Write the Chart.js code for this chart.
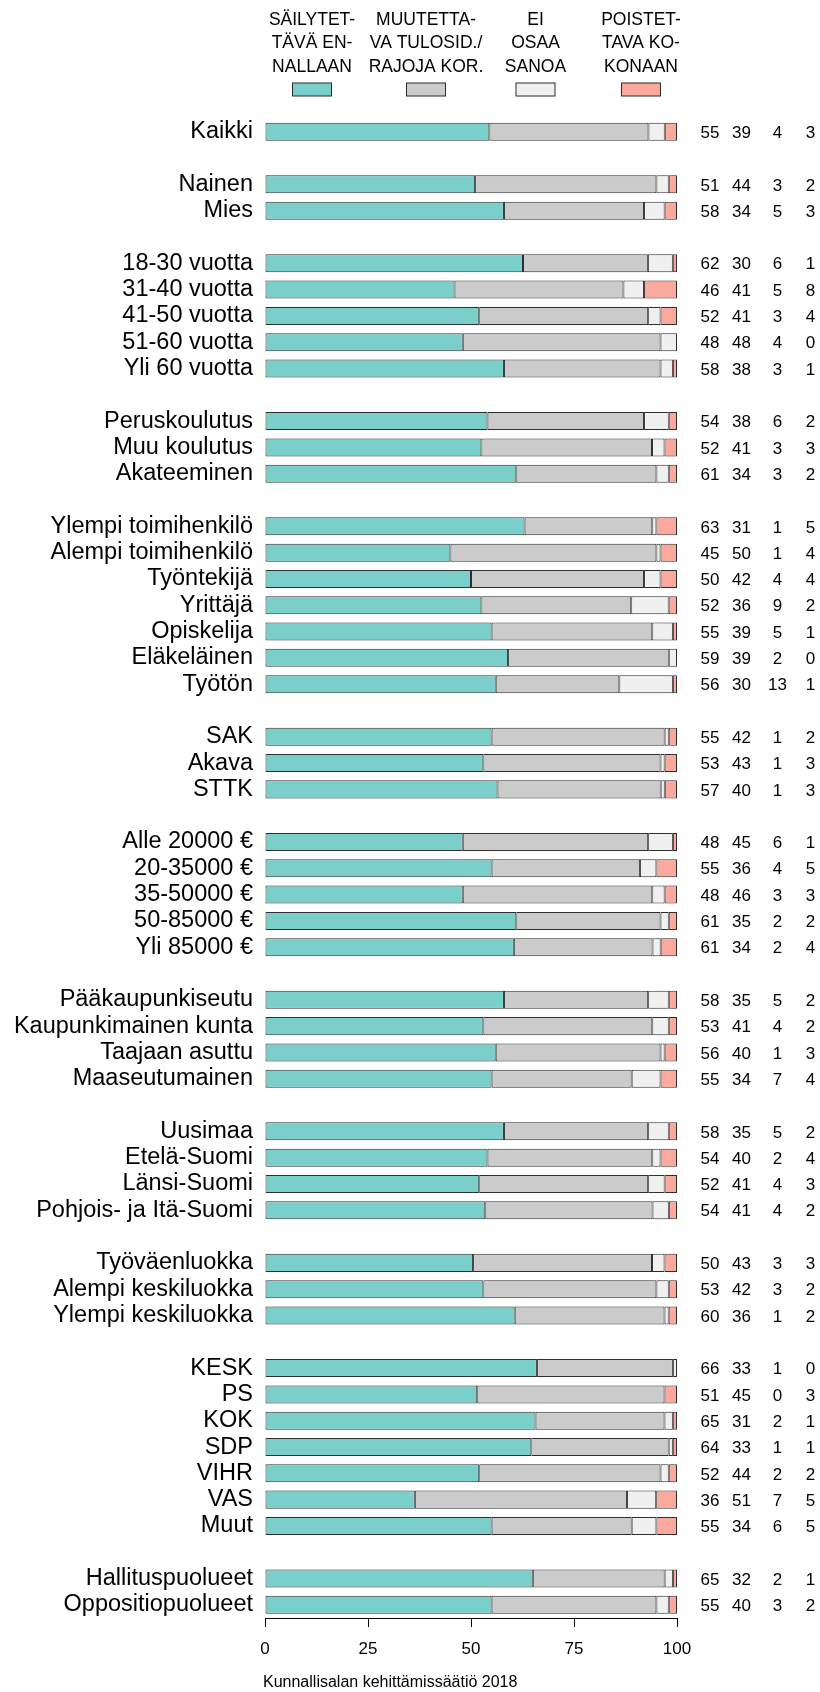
<!DOCTYPE html>
<html><head><meta charset="utf-8">
<script src="https://cdn.jsdelivr.net/npm/chart.js@4.4.0/dist/chart.umd.min.js"></script>
<style>html,body{margin:0;padding:0;background:#fff}canvas{display:block}</style>
</head><body>
<canvas id="c" width="820" height="1692" style="width:820px;height:1692px"></canvas>
<script>
// ---- data ----
const categories = [
  'Kaikki','',
  'Nainen','Mies','',
  '18-30 vuotta','31-40 vuotta','41-50 vuotta','51-60 vuotta','Yli 60 vuotta','',
  'Peruskoulutus','Muu koulutus','Akateeminen','',
  'Ylempi toimihenkilö','Alempi toimihenkilö','Työntekijä','Yrittäjä','Opiskelija','Eläkeläinen','Työtön','',
  'SAK','Akava','STTK','',
  'Alle 20000 €','20-35000 €','35-50000 €','50-85000 €','Yli 85000 €','',
  'Pääkaupunkiseutu','Kaupunkimainen kunta','Taajaan asuttu','Maaseutumainen','',
  'Uusimaa','Etelä-Suomi','Länsi-Suomi','Pohjois- ja Itä-Suomi','',
  'Työväenluokka','Alempi keskiluokka','Ylempi keskiluokka','',
  'KESK','PS','KOK','SDP','VIHR','VAS','Muut','',
  'Hallituspuolueet','Oppositiopuolueet'
];
const sailytettava = [
  55,null,
  51,58,null,
  62,46,52,48,58,null,
  54,52,61,null,
  63,45,50,52,55,59,56,null,
  55,53,57,null,
  48,55,48,61,61,null,
  58,53,56,55,null,
  58,54,52,54,null,
  50,53,60,null,
  66,51,65,64,52,36,55,null,
  65,55
];
const muutettava = [
  39,null,
  44,34,null,
  30,41,41,48,38,null,
  38,41,34,null,
  31,50,42,36,39,39,30,null,
  42,43,40,null,
  45,36,46,35,34,null,
  35,41,40,34,null,
  35,40,41,41,null,
  43,42,36,null,
  33,45,31,33,44,51,34,null,
  32,40
];
const eiOsaaSanoa = [
  4,null,
  3,5,null,
  6,5,3,4,3,null,
  6,3,3,null,
  1,1,4,9,5,2,13,null,
  1,1,1,null,
  6,4,3,2,2,null,
  5,4,1,7,null,
  5,2,4,4,null,
  3,3,1,null,
  1,0,2,1,2,7,6,null,
  2,3
];
const poistettava = [
  3,null,
  2,3,null,
  1,8,4,0,1,null,
  2,3,2,null,
  5,4,4,2,1,0,1,null,
  2,3,3,null,
  1,5,3,2,4,null,
  2,2,3,4,null,
  2,4,3,2,null,
  3,2,2,null,
  0,3,1,1,2,5,5,null,
  1,2
];
const seriesNames = ['Säilytettävä ennallaan','Muutettava tulosid./rajoja kor.','Ei osaa sanoa','Poistettava kokonaan'];
const legendLines = [
  ['SÄILYTET-','TÄVÄ EN-','NALLAAN'],
  ['MUUTETTA-','VA TULOSID./','RAJOJA KOR.'],
  ['EI','OSAA','SANOA'],
  ['POISTET-','TAVA KO-','KONAAN']
];
const xTickValues = [0,25,50,75,100];
const caption = 'Kunnallisalan kehittämissäätiö 2018';

// ---- styles ----
const colors = ['#7ACFCB','#CBCBCB','#F0F0F0','#FAA99C'];
const FONT = "'Liberation Sans', Arial, Helvetica, sans-serif";
const allSeries = [sailytettava, muutettava, eiOsaaSanoa, poistettava];

// bars show each answer's share of its row (printed values are rounded)
const rowTotals = categories.map((c,i) => c === '' ? null : allSeries.reduce((s,a)=>s+a[i],0));
const toShare = arr => arr.map((v,i) => v === null ? null : v / rowTotals[i] * 100);

const overlay = {
  id: 'overlay',
  afterDatasetsDraw(chart) {
    const {ctx, chartArea, scales:{y}} = chart;
    ctx.save();
    // numbers at right
    ctx.fillStyle = '#000';
    ctx.font = '17px ' + FONT;
    ctx.textAlign = 'center';
    ctx.textBaseline = 'middle';
    const offs = [33, 64.5, 100.5, 133.5];
    categories.forEach((c,i) => {
      if (!c) return;
      const yy = y.getPixelForValue(i) + 1.5;
      allSeries.forEach((arr,k) => ctx.fillText(String(arr[i]), chartArea.right + offs[k], yy));
    });
    // legend
    const centers = [312, 426, 535.5, 641];
    const lineY = [20, 43.5, 67];
    ctx.font = '17.5px ' + FONT;
    legendLines.forEach((lines,k) => {
      lines.forEach((t,j) => ctx.fillText(t, centers[k], lineY[j]));
      ctx.fillStyle = colors[k];
      ctx.fillRect(centers[k]-19.5, 83, 39, 13);
      ctx.strokeStyle = '#2a2a2a';
      ctx.lineWidth = 1;
      ctx.strokeRect(centers[k]-19.5, 83, 39, 13);
      ctx.fillStyle = '#000';
    });
    // caption
    ctx.font = '16px ' + FONT;
    ctx.textAlign = 'left';
    ctx.fillText(caption, 263, 1683);
    ctx.restore();
  }
};

new Chart(document.getElementById('c'), {
  type: 'bar',
  data: {
    labels: categories,
    datasets: allSeries.map((arr,k) => ({
      label: seriesNames[k],
      data: toShare(arr),
      backgroundColor: colors[k],
      borderColor: '#2e2e2e',
      borderWidth: ctx => (ctx.raw > 0 ? 1 : 0),
      borderSkipped: false,
      barPercentage: 0.685,
      categoryPercentage: 1
    }))
  },
  options: {
    indexAxis: 'y',
    responsive: false,
    animation: false,
    devicePixelRatio: 1,
    layout: { padding: { top: 118.6, right: 143, bottom: 0, left: 0 } },
    plugins: { legend: { display: false }, tooltip: { enabled: false } },
    scales: {
      x: {
        stacked: true,
        min: 0, max: 100,
        afterBuildTicks: s => { s.ticks = xTickValues.map(v => ({value: v})); },
        grid: { display: true, drawOnChartArea: false, drawTicks: true, tickLength: 9, color: '#000', lineWidth: 1 },
        border: { display: true, color: '#000', width: 1 },
        ticks: { color: '#000', font: { family: FONT, size: 17 }, padding: 12, maxRotation: 0 },
        afterFit: s => { s.height = 1692 - 1618; }
      },
      y: {
        stacked: true,
        grid: { display: false, drawTicks: false },
        border: { display: false },
        ticks: { color: '#000', font: { family: FONT, size: 23.5 }, padding: 12, autoSkip: false },
        afterFit: s => { s.width = 265; }
      }
    }
  },
  plugins: [overlay]
});
</script>
</body></html>
